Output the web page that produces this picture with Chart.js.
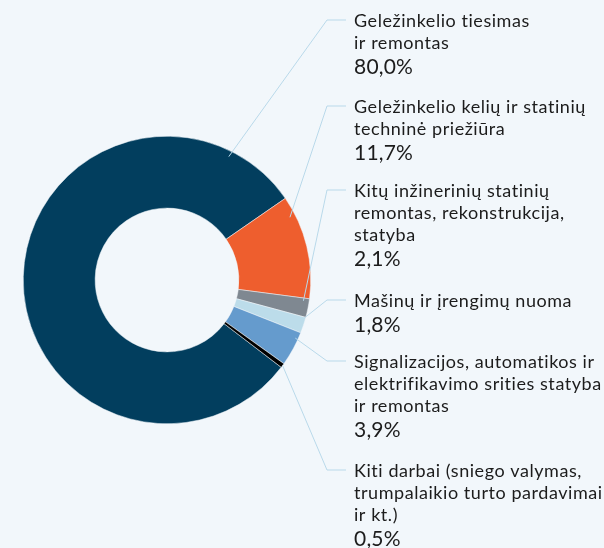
<!DOCTYPE html>
<html>
<head>
<meta charset="utf-8">
<script src="https://cdn.jsdelivr.net/npm/chart.js@4.4.0/dist/chart.umd.min.js"></script>
<style>
  body { margin: 0; background: #f2f7fb; }
  #wrap { width: 604px; height: 548px; }
</style>
</head>
<body>
<div id="wrap"><canvas id="worksChart" width="604" height="548"></canvas></div>
<script>
const categories = [
  ['Geležinkelio tiesimas', 'ir remontas'],
  ['Geležinkelio kelių ir statinių', 'techninė priežiūra'],
  ['Kitų inžinerinių statinių', 'remontas, rekonstrukcija,', 'statyba'],
  ['Mašinų ir įrengimų nuoma'],
  ['Signalizacijos, automatikos ir', 'elektrifikavimo srities statyba', 'ir remontas'],
  ['Kiti darbai (sniego valymas,', 'trumpalaikio turto pardavimai', 'ir kt.)']
];
const shares = [80.0, 11.7, 2.1, 1.8, 3.9, 0.5];
const colors = ['#023e5e', '#ee5e2e', '#7f8891', '#bcdcea', '#659bcd', '#000000'];

// where the leader line leaves each slice (share of the slice angle, share of radius)
const anchorAt = [[0.9, 0.96], [0.18, 0.96], [0.15, 0.96], [0.08, 0.99], [0.2, 0.98], [0.5, 1.0]];
// vertical middle of the first text line for each label
const labelY = [20, 106, 190, 300, 361, 470];

const fmt = v => v.toFixed(1).replace('.', ',') + '%';

const leaderLabels = {
  id: 'leaderLabels',
  afterDatasetsDraw(chart) {
    const ctx = chart.ctx;
    const meta = chart.getDatasetMeta(0);
    const textX = 354, elbowX = 327, endX = 346;
    ctx.save();
    meta.data.forEach((arc, i) => {
      const p = arc.getProps(['x', 'y', 'startAngle', 'endAngle', 'outerRadius'], true);
      const a = p.startAngle + (p.endAngle - p.startAngle) * anchorAt[i][0];
      const r = p.outerRadius * anchorAt[i][1];
      const ax = p.x + Math.cos(a) * r;
      const ay = p.y + Math.sin(a) * r;
      const y = labelY[i];

      ctx.strokeStyle = '#b9d9ea';
      ctx.lineWidth = 1;
      ctx.beginPath();
      ctx.moveTo(ax, ay);
      ctx.lineTo(elbowX, y);
      ctx.lineTo(endX, y);
      ctx.stroke();

      ctx.fillStyle = '#1c1c1c';
      ctx.textBaseline = 'alphabetic';
      ctx.textAlign = 'left';
      ctx.letterSpacing = '0.55px';
      ctx.font = '18px Lato';
      let base = y + 7;
      categories[i].forEach((line, k) => {
        ctx.fillText(line, textX, base);
        if (k < categories[i].length - 1) base += 22;
      });
      ctx.letterSpacing = '0.2px';
      ctx.font = '21px Lato';
      ctx.fillText(fmt(shares[i]), textX, base + 25);
    });
    ctx.restore();
  }
};

new Chart(document.getElementById('worksChart'), {
  type: 'doughnut',
  data: {
    labels: categories.map(c => c.join(' ')),
    datasets: [{
      data: shares,
      backgroundColor: colors,
      borderColor: '#f2f7fb',
      borderWidth: 0.5,
      hoverOffset: 0
    }]
  },
  options: {
    responsive: false,
    animation: false,
    cutout: '50%',
    rotation: 127.4,
    layout: { padding: { left: 23, right: 293, top: 136, bottom: 124 } },
    plugins: {
      legend: { display: false },
      tooltip: { enabled: false }
    }
  },
  plugins: [leaderLabels]
});
</script>
</body>
</html>
